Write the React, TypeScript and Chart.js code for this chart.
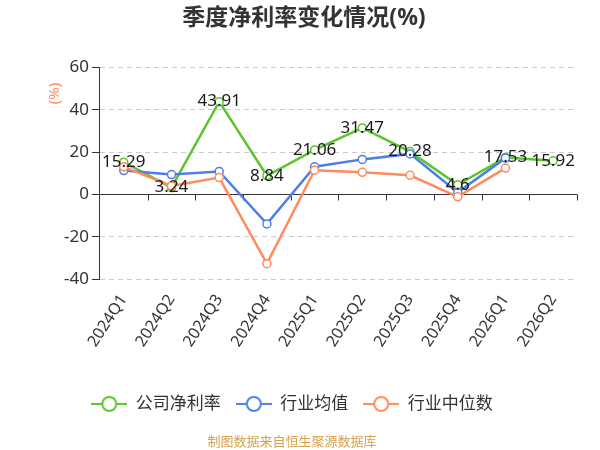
import React, { useEffect, useRef } from "react";
import { Chart, registerables } from "chart.js";

Chart.register(...registerables);

const categories = ["2024Q1", "2024Q2", "2024Q3", "2024Q4", "2025Q1", "2025Q2", "2025Q3", "2025Q4", "2026Q1", "2026Q2"];
const companyNetMargin = [15.29, 3.24, 43.91, 8.84, 21.06, 31.47, 20.28, 4.6, 17.53, 15.92];
const industryMean = [11.3, 9.4, 10.9, -13.9, 13.1, 16.6, 19.2, 1.0, 17.2, null];
const industryMedian = [13.1, 4.0, 8.0, -32.7, 11.5, 10.5, 9.1, -1.1, 12.5, null];
const seriesNames = ["公司净利率", "行业均值", "行业中位数"];
const seriesColors = ["#5bc52c", "#4f7fe6", "#ff8b5e"];
const yMin = -40;
const yMax = 60;
const yStep = 20;
const titleText = "季度净利率变化情况(%)";
const yTitleText = "(%)";
const footerText = "制图数据来自恒生聚源数据库";

const FONT = '"Noto Sans", "Noto Sans CJK SC", sans-serif';

function makeLegendIcon(color: string): HTMLCanvasElement {
  const c = document.createElement("canvas");
  c.width = 36;
  c.height = 18;
  const g = c.getContext("2d")!;
  g.strokeStyle = color;
  g.lineWidth = 2;
  g.beginPath();
  g.moveTo(0, 9);
  g.lineTo(36, 9);
  g.stroke();
  g.beginPath();
  g.arc(18, 9, 7, 0, Math.PI * 2);
  g.fillStyle = "#ffffff";
  g.fill();
  g.stroke();
  return c;
}

const zeroAxisPlugin = {
  id: "zeroAxis",
  beforeDatasetsDraw(chart: any) {
    const { ctx, chartArea, scales } = chart;
    const y0 = Math.round(scales.y.getPixelForValue(0)) + 0.5;
    const xs = scales.x;
    const n = categories.length;
    ctx.save();
    ctx.strokeStyle = "#333333";
    ctx.lineWidth = 1;
    ctx.setLineDash([]);
    ctx.beginPath();
    ctx.moveTo(chartArea.left, y0);
    ctx.lineTo(chartArea.right, y0);
    for (let i = 1; i <= n; i++) {
      const px = i < n ? (xs.getPixelForValue(i - 1) + xs.getPixelForValue(i)) / 2 : chartArea.right;
      const rx = Math.round(px) + 0.5;
      ctx.moveTo(rx, y0);
      ctx.lineTo(rx, y0 + 6);
    }
    ctx.stroke();
    ctx.restore();
  },
};

const textPlugin = {
  id: "extraText",
  afterDraw(chart: any) {
    const { ctx, chartArea, scales } = chart;
    ctx.save();
    // chart title, centred on the full canvas
    ctx.font = `bold 23px ${FONT}`;
    ctx.fillStyle = "#333333";
    ctx.textAlign = "center";
    ctx.textBaseline = "middle";
    ctx.fillText(titleText, chart.width / 2 + 4, 18);
    // y axis unit
    ctx.translate(scales.y.left + 48, chartArea.top + 26);
    ctx.rotate(-Math.PI / 2);
    ctx.font = `15px ${FONT}`;
    ctx.fillStyle = "#ff8b5e";
    ctx.fillText(yTitleText, 0, 0);
    ctx.restore();
  },
};

const dataLabelPlugin = {
  id: "dataLabels",
  afterDatasetsDraw(chart: any) {
    const { ctx } = chart;
    const meta = chart.getDatasetMeta(0);
    ctx.save();
    ctx.font = `17px ${FONT}`;
    ctx.fillStyle = "#1a1a1a";
    ctx.textAlign = "center";
    ctx.textBaseline = "middle";
    meta.data.forEach((pt: any, i: number) => {
      const v = companyNetMargin[i];
      if (v === null || v === undefined) return;
      ctx.fillText(String(v), pt.x, pt.y);
    });
    ctx.restore();
  },
};

export default function App() {
  const ref = useRef<HTMLCanvasElement | null>(null);

  useEffect(() => {
    if (!ref.current) return;
    const icons = seriesColors.map(makeLegendIcon);
    const seriesData = [companyNetMargin, industryMean, industryMedian];
    const orders = [3, 2, 1];
    const chart = new Chart(ref.current, {
      type: "line",
      data: {
        labels: categories,
        datasets: seriesData.map((d, i) => ({
          label: seriesNames[i],
          data: d,
          borderColor: seriesColors[i],
          backgroundColor: "#ffffff",
          pointBackgroundColor: "#ffffff",
          pointBorderColor: seriesColors[i],
          pointBorderWidth: 1.5,
          pointRadius: 4,
          borderWidth: 2.5,
          tension: 0,
          spanGaps: false,
          order: orders[i],
        })),
      },
      options: {
        animation: false,
        responsive: true,
        maintainAspectRatio: false,
        layout: { padding: { left: 7, right: 23, top: 0, bottom: 0 } },
        font: { family: FONT },
        plugins: {
          title: {
            display: true,
            text: titleText,
            color: "rgba(0,0,0,0)",
            font: { family: FONT, size: 23, weight: "bold" },
            padding: { top: 4, bottom: 36 },
          },
          subtitle: {
            display: true,
            text: footerText,
            position: "bottom",
            color: "#d6a24c",
            font: { family: FONT, size: 13 },
            padding: { top: 12, bottom: 0 },
          },
          legend: {
            display: true,
            position: "bottom",
            labels: {
              usePointStyle: true,
              pointStyleWidth: 36,
              color: "#333333",
              font: { family: FONT, size: 17 },
              padding: 15,
              generateLabels: () =>
                seriesNames.map((name, i) => ({
                  text: name,
                  fillStyle: "#ffffff",
                  strokeStyle: seriesColors[i],
                  lineWidth: 2,
                  pointStyle: icons[i],
                  fontColor: "#333333",
                  datasetIndex: i,
                  hidden: false,
                })),
            },
          },
          tooltip: { enabled: false },
        },
        scales: {
          x: {
            type: "category",
            offset: true,
            grid: { display: false },
            border: { display: false },
            ticks: {
              color: "#333333",
              font: { family: FONT, size: 16 },
              maxRotation: 57,
              minRotation: 57,
              padding: 4,
              autoSkip: false,
            },
            afterFit: (scale: any) => {
              scale.height += 26;
            },
          },
          y: {
            min: yMin,
            max: yMax,
            ticks: {
              stepSize: yStep,
              color: "#333333",
              font: { family: FONT, size: 17 },
              padding: 3,
            },
            grid: {
              color: "#cccccc",
              lineWidth: 1,
              drawTicks: true,
              tickLength: 8,
              tickColor: "#333333",
              tickBorderDash: [],
            },
            border: {
              display: true,
              color: "#333333",
              width: 1,
              dash: (ctx: any) => (ctx && ctx.tick && ctx.tick.value !== 0 ? [5, 4] : []),
            },
            title: {
              display: true,
              text: yTitleText,
              align: "end",
              color: "rgba(0,0,0,0)",
              font: { family: FONT, size: 15 },
              padding: { top: 0, bottom: 4 },
            },
            afterFit: (scale: any) => {
              scale.width += 32;
            },
          },
        },
      },
      plugins: [zeroAxisPlugin, dataLabelPlugin, textPlugin],
    } as any);
    return () => chart.destroy();
  }, []);

  return (
    <div style={{ position: "fixed", left: 0, top: 0, width: 600, height: 450, background: "#ffffff" }}>
      <canvas ref={ref} />
    </div>
  );
}
